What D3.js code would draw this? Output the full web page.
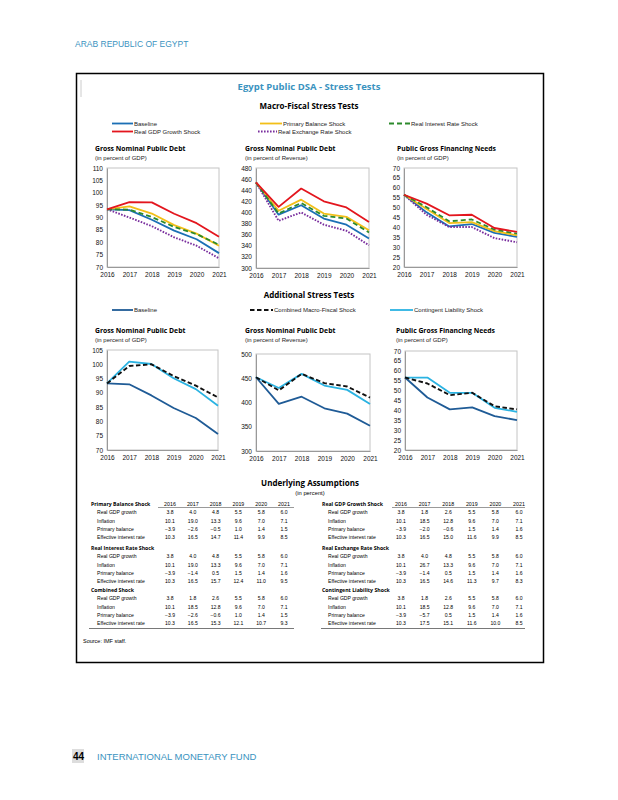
<!DOCTYPE html>
<html><head><meta charset="utf-8">
<script src="https://cdn.jsdelivr.net/npm/d3@7"></script>
<style>
body{margin:0;background:#fff;}
svg text{font-family:"Liberation Sans Narrow","Liberation Sans",Arial,sans-serif;}
.hd{font-family:"Open Sans","Noto Sans",sans-serif !important;font-weight:700;}
</style></head>
<body><svg id="c" width="618" height="800"></svg>
<script>
const years = [2016, 2017, 2018, 2019, 2020, 2021];

// Macro-fiscal stress tests
const debtGdpBaseline   = [93.3, 93.0, 89.1, 84.7, 81.2, 75.6];
const debtGdpGrowth     = [93.3, 96.2, 96.1, 91.5, 87.7, 82.2];
const debtGdpPrimary    = [93.3, 94.5, 91.6, 86.9, 83.5, 78.6];
const debtGdpInterest   = [93.3, 93.2, 90.2, 86.2, 83.3, 79.0];
const debtGdpExchange   = [93.3, 90.0, 86.5, 82.0, 78.6, 73.5];

const debtRevBaseline   = [454, 396, 413, 389, 378, 353];
const debtRevGrowth     = [454, 410, 443, 420, 409, 383];
const debtRevPrimary    = [454, 403, 423, 398, 392, 368];
const debtRevInterest   = [454, 398, 417, 394, 389, 364];
const debtRevExchange   = [454, 385, 400, 378, 367, 341];

const gfnBaseline       = [56.5, 47.6, 40.5, 41.7, 37.2, 35.2];
const gfnGrowth         = [56.5, 52.0, 46.1, 46.4, 39.7, 37.7];
const gfnPrimary        = [56.5, 49.3, 42.2, 42.7, 38.1, 36.0];
const gfnInterest       = [56.5, 50.2, 43.1, 44.0, 38.9, 36.8];
const gfnExchange       = [56.5, 46.4, 40.2, 40.2, 34.6, 32.5];

// Additional stress tests
const addDebtGdpBaseline    = [93.3, 93.0, 89.1, 84.7, 81.2, 75.6];
const addDebtGdpCombined    = [93.3, 99.4, 100.0, 95.9, 92.5, 88.4];
const addDebtGdpContingent  = [93.3, 100.9, 100.1, 95.1, 91.3, 85.5];

const addDebtRevBaseline    = [452, 397, 412, 388, 377, 352];
const addDebtRevCombined    = [452, 425, 459, 440, 433, 410];
const addDebtRevContingent  = [452, 430, 459, 435, 426, 397];

const addGfnBaseline        = [56.6, 46.5, 40.5, 41.5, 37.1, 35.1];
const addGfnCombined        = [56.6, 53.6, 47.7, 48.9, 42.1, 40.5];
const addGfnContingent      = [56.6, 56.6, 48.9, 48.9, 41.3, 39.3];

// Underlying assumptions tables
const rowLabels = ["Real GDP growth", "Inflation", "Primary balance", "Effective interest rate"];
const pbShock   = [[3.8,4.0,4.8,5.5,5.8,6.0],[10.1,19.0,13.3,9.6,7.0,7.1],[-3.9,-2.6,-0.5,1.0,1.4,1.5],[10.3,16.5,14.7,11.4,9.9,8.5]];
const riShock   = [[3.8,4.0,4.8,5.5,5.8,6.0],[10.1,19.0,13.3,9.6,7.0,7.1],[-3.9,-1.4,0.5,1.5,1.4,1.6],[10.3,16.5,15.7,12.4,11.0,9.5]];
const combShock = [[3.8,1.8,2.6,5.5,5.8,6.0],[10.1,18.5,12.8,9.6,7.0,7.1],[-3.9,-2.6,-0.6,1.0,1.4,1.5],[10.3,16.5,15.3,12.1,10.7,9.3]];
const gdpShock  = [[3.8,1.8,2.6,5.5,5.8,6.0],[10.1,18.5,12.8,9.6,7.0,7.1],[-3.9,-2.0,-0.6,1.5,1.4,1.6],[10.3,16.5,15.0,11.6,9.9,8.5]];
const rerShock  = [[3.8,4.0,4.8,5.5,5.8,6.0],[10.1,26.7,13.3,9.6,7.0,7.1],[-3.9,-1.4,0.5,1.5,1.4,1.6],[10.3,16.5,14.6,11.3,9.7,8.3]];
const clShock   = [[3.8,1.8,2.6,5.5,5.8,6.0],[10.1,18.5,12.8,9.6,7.0,7.1],[-3.9,-5.7,0.5,1.5,1.4,1.6],[10.3,17.5,15.1,11.6,10.0,8.5]];

const svg = d3.select("#c");
const TEAL = "#3a93c0";
const C = {base:"#1b6fb5", growth:"#e3161e", primary:"#f2bf18", interest:"#2c8a2c", exchange:"#7a2f9e",
           base2:"#1f5b96", combined:"#111", contingent:"#2bb3e2"};
const S = {
  base:{c:C.base,d:null}, growth:{c:C.growth,d:null}, primary:{c:C.primary,d:null},
  interest:{c:C.interest,d:"5,3"}, exchange:{c:C.exchange,d:"1.6,1.4"},
  base2:{c:C.base2,d:null}, combined:{c:C.combined,d:"4.5,2.5"}, contingent:{c:C.contingent,d:null}
};

// page header & footer
svg.append("text").attr("x",75).attr("y",47).attr("fill",TEAL).style("font-size","8.5px").text("ARAB REPUBLIC OF EGYPT");
svg.append("rect").attr("x",72).attr("y",749).attr("width",12).attr("height",14).attr("fill","#ddd");
svg.append("text").attr("x",73).attr("y",760).attr("fill","#000").style("font-size","10px").style("font-weight","700").text("44");
svg.append("text").attr("x",97).attr("y",760).attr("fill",TEAL).style("font-size","9.5px").text("INTERNATIONAL MONETARY FUND");

// box
svg.append("rect").attr("x",76.5).attr("y",73.5).attr("width",467).attr("height",589).attr("fill","none").attr("stroke","#000").attr("stroke-width",1.5);
svg.append("line").attr("x1",81).attr("x2",81).attr("y1",80).attr("y2",97).attr("stroke","#ccc").attr("stroke-width",1);

svg.append("text").attr("class","hd").attr("x",309).attr("y",90).attr("text-anchor","middle").attr("fill",TEAL).style("font-size","9.5px").text("Egypt Public DSA - Stress Tests");
svg.append("text").attr("class","hd").attr("x",309).attr("y",109).attr("text-anchor","middle").style("font-size","8px").text("Macro-Fiscal Stress Tests");
svg.append("text").attr("class","hd").attr("x",309).attr("y",298).attr("text-anchor","middle").style("font-size","8px").text("Additional Stress Tests");

function legendItem(x1,x2,y,key,label,w){
  const s=S[key];
  svg.append("line").attr("x1",x1).attr("x2",x2).attr("y1",y).attr("y2",y).attr("stroke",s.c).attr("stroke-width",w||1.8).attr("stroke-dasharray",s.d);
  svg.append("text").attr("x",x2+1).attr("y",y+2).style("font-size","6px").attr("fill","#222").text(label);
}
legendItem(112,133,123.5,"base","Baseline");
legendItem(112,133,131.5,"growth","Real GDP Growth Shock");
legendItem(260,282,123.5,"primary","Primary Balance Shock");
legendItem(258,277,131.5,"exchange","Real Exchange Rate Shock");
legendItem(389,410,123.5,"interest","Real Interest Rate Shock");
legendItem(112,133,310,"base2","Baseline");
legendItem(250,273,310,"combined","Combined Macro-Fiscal Shock",2);
legendItem(390,413,310,"contingent","Contingent Liability Shock");

function chart(cfg){
  const g = svg.append("g");
  const x = d3.scaleLinear().domain([years[0],years[years.length-1]]).range([cfg.x0,cfg.x1]);
  const y = d3.scaleLinear().domain(cfg.dom).range([cfg.y1,cfg.y0]);
  g.append("text").attr("class","hd").attr("x",cfg.tx).attr("y",cfg.ty).style("font-size","6.8px").text(cfg.title);
  g.append("text").attr("x",cfg.tx).attr("y",cfg.ty+8.5).style("font-size","6px").attr("fill","#222").text(cfg.sub);
  g.append("rect").attr("x",cfg.x0).attr("y",cfg.y0).attr("width",cfg.x1-cfg.x0).attr("height",cfg.y1-cfg.y0)
    .attr("fill","none").attr("stroke","#c4c4c4").attr("stroke-width",1);
  const ya = d3.axisLeft(y).tickValues(d3.range(cfg.dom[0],cfg.dom[1]+0.001,cfg.step)).tickSize(0).tickPadding(4);
  const ay = g.append("g").attr("transform",`translate(${cfg.x0},0)`).call(ya);
  ay.select(".domain").attr("stroke","#999");
  ay.selectAll("text").style("font-size","6.5px").attr("fill","#111").style("font-family","'Liberation Sans Narrow','Liberation Sans',sans-serif");
  const xa = d3.axisBottom(x).tickValues(years).tickFormat(d3.format("d")).tickSize(0).tickPadding(5);
  const ax = g.append("g").attr("transform",`translate(0,${cfg.y1})`).call(xa);
  ax.select(".domain").attr("stroke","#999");
  ax.selectAll("text").style("font-size","6.5px").attr("fill","#111").style("font-family","'Liberation Sans Narrow','Liberation Sans',sans-serif");
  const line = d3.line().x((d,i)=>x(years[i])).y(d=>y(d));
  cfg.series.forEach(([key,vals])=>{
    const s=S[key];
    g.append("path").datum(vals).attr("d",line).attr("fill","none").attr("stroke",s.c)
      .attr("stroke-width",key==="exchange"?1.9:(key==="combined"?1.9:1.8)).attr("stroke-dasharray",s.d).attr("stroke-linejoin","round");
  });
}

chart({x0:107,x1:219,y0:168,y1:267,dom:[70,110],step:5,tx:95,ty:151,title:"Gross Nominal Public Debt",sub:"(in percent of GDP)",
  series:[["base",debtGdpBaseline],["exchange",debtGdpExchange],["primary",debtGdpPrimary],["interest",debtGdpInterest],["growth",debtGdpGrowth]]});
chart({x0:256,x1:369,y0:168,y1:268,dom:[300,480],step:20,tx:245,ty:151,title:"Gross Nominal Public Debt",sub:"(in percent of Revenue)",
  series:[["base",debtRevBaseline],["exchange",debtRevExchange],["primary",debtRevPrimary],["interest",debtRevInterest],["growth",debtRevGrowth]]});
chart({x0:404,x1:517,y0:168,y1:267,dom:[20,70],step:5,tx:397,ty:151,title:"Public Gross Financing Needs",sub:"(in percent of GDP)",
  series:[["base",gfnBaseline],["exchange",gfnExchange],["primary",gfnPrimary],["interest",gfnInterest],["growth",gfnGrowth]]});

chart({x0:107,x1:218,y0:350,y1:450,dom:[70,105],step:5,tx:95,ty:333,title:"Gross Nominal Public Debt",sub:"(in percent of GDP)",
  series:[["base2",addDebtGdpBaseline],["contingent",addDebtGdpContingent],["combined",addDebtGdpCombined]]});
chart({x0:256,x1:370,y0:354,y1:451,dom:[300,500],step:50,tx:245,ty:333,title:"Gross Nominal Public Debt",sub:"(in percent of Revenue)",
  series:[["base2",addDebtRevBaseline],["contingent",addDebtRevContingent],["combined",addDebtRevCombined]]});
chart({x0:405,x1:517,y0:351,y1:450,dom:[20,70],step:5,tx:396,ty:333,title:"Public Gross Financing Needs",sub:"(in percent of GDP)",
  series:[["base2",addGfnBaseline],["contingent",addGfnContingent],["combined",addGfnCombined]]});

// Underlying assumptions
svg.append("text").attr("class","hd").attr("x",310).attr("y",486).attr("text-anchor","middle").style("font-size","8px").text("Underlying Assumptions");
svg.append("text").attr("x",310).attr("y",494.5).attr("text-anchor","middle").style("font-size","5.8px").text("(in percent)");

const fmt = d3.format(".1f");
function table(cfg){
  const colX = d3.scalePoint().domain(years).range([cfg.c0,cfg.c1]);
  const g = svg.append("g");
  // header underline
  g.append("line").attr("x1",cfg.u0).attr("x2",cfg.r).attr("y1",507.5).attr("y2",507.5).attr("stroke","#555").attr("stroke-width",0.6);
  years.forEach(yr=>g.append("text").attr("x",colX(yr)).attr("y",506).attr("text-anchor","middle").style("font-size","5.3px").text(yr));
  cfg.blocks.forEach((b,bi)=>{
    const hy = [506,550,592][bi];
    g.append("text").attr("class","hd").attr("x",cfg.hx).attr("y",hy).style("font-size","5.2px").text(b.name);
    b.data.forEach((row,ri)=>{
      const ry = hy+8.3*(ri+1);
      g.append("text").attr("x",cfg.lx).attr("y",ry).style("font-size","5.1px").text(rowLabels[ri]);
      row.forEach((v,ci)=>g.append("text").attr("x",colX(years[ci])).attr("y",ry).attr("text-anchor","middle").style("font-size","5.1px").text(fmt(v)));
    });
  });
  g.append("line").attr("x1",cfg.b0).attr("x2",cfg.r).attr("y1",628.5).attr("y2",628.5).attr("stroke","#555").attr("stroke-width",0.8);
}
table({c0:170,c1:284,u0:158,r:294,b0:89,hx:91,lx:97,blocks:[
  {name:"Primary Balance Shock",data:pbShock},{name:"Real Interest Rate Shock",data:riShock},{name:"Combined Shock",data:combShock}]});
table({c0:401,c1:519,u0:392,r:525,b0:321,hx:322,lx:328,blocks:[
  {name:"Real GDP Growth Shock",data:gdpShock},{name:"Real Exchange Rate Shock",data:rerShock},{name:"Contingent Liability Shock",data:clShock}]});

svg.append("text").attr("x",83).attr("y",643).style("font-size","5.5px").text("Source: IMF staff.");
</script></body></html>
